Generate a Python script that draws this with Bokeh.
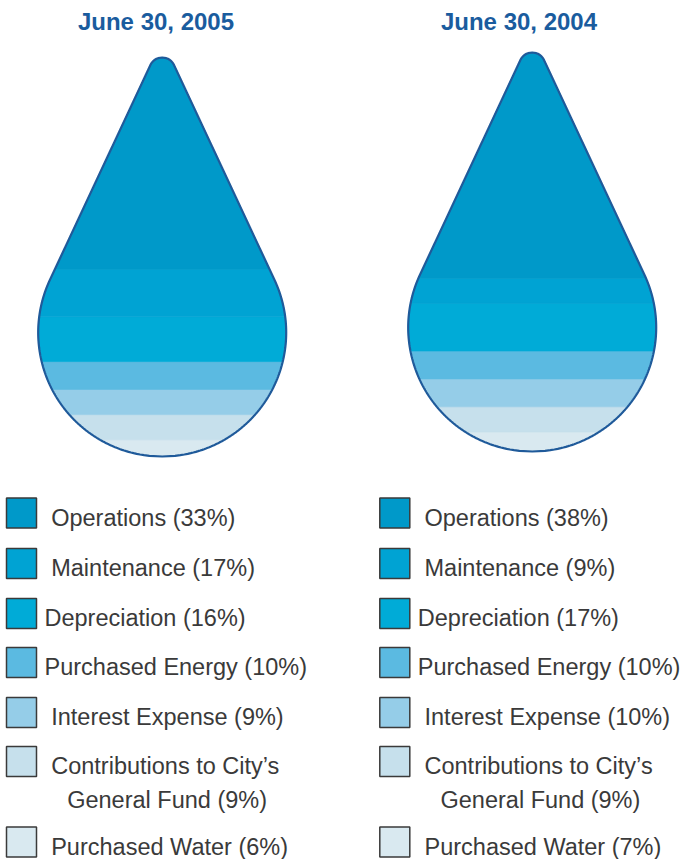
import numpy as np
from bokeh.plotting import figure
from bokeh.models import Range1d, ColumnDataSource
from bokeh.core.properties import value
from bokeh.embed import file_html
from bokeh.resources import INLINE

# ---------------- data ----------------
years = ["June 30, 2005", "June 30, 2004"]
categories = ["Operations", "Maintenance", "Depreciation", "Purchased Energy",
              "Interest Expense", "Contributions to City’s General Fund", "Purchased Water"]
label_lines = [["Operations"], ["Maintenance"], ["Depreciation"], ["Purchased Energy"],
               ["Interest Expense"], ["Contributions to City’s", "General Fund"], ["Purchased Water"]]
pct_2005 = [33, 17, 16, 10, 9, 9, 6]
pct_2004 = [38, 9, 17, 10, 10, 9, 7]
colors = ["#0099c9", "#00a3d3", "#00abd7", "#5bbae1", "#95cde8", "#c6e0ec", "#d9e9f0"]

# ---------------- layout / style ----------------
W, H = 695, 859
FONT = value("Liberation Sans")
TITLE_COLOR = "#1a5c9e"
OUTLINE_COLOR = "#1f5a9a"
TEXT_COLOR = "#3a3a3a"

R_PX = 124.0       # radius of the round part of the drop
DROP_PX = 399.0    # drop height, bottom to tip
TIP_R = 13.0       # rounding radius of the tip
FILL_SPAN = 0.70   # share of the drop height that 100 % spans
PX_PER_PCT = FILL_SPAN * DROP_PX / 100.0

drop_cx = [161.7, 531.7]
drop_base = [456.0, 451.0]
title_x = [155.5, 518.5]
title_y = 21
sq_x = [21.0, 394.3]
sq_size = 30
row_y = [512.5, 563, 613, 662, 712, 761, 841.5]
text_off = [14.7, 14.7, 8.0, 8.0, 14.7, 14.7, 14.7]
second_line_off = 30.7
text_dy = 4.5
line_gap = 34


def half_width(u):
    u = np.asarray(u, dtype=float)
    yc = R_PX
    yt = DROP_PX - TIP_R
    d = yt - yc
    sa = (R_PX - TIP_R) / d
    ca = np.sqrt(1 - sa ** 2)
    y1 = yc + R_PX * sa
    y2 = yt + TIP_R * sa
    circ = np.sqrt(np.clip(R_PX ** 2 - (u - yc) ** 2, 0, None))
    line = R_PX * ca + (u - y1) * (TIP_R * ca - R_PX * ca) / (y2 - y1)
    tip = np.sqrt(np.clip(TIP_R ** 2 - (u - yt) ** 2, 0, None))
    return np.where(u <= y1, circ, np.where(u <= y2, line, tip))


p = figure(width=W, height=H, x_range=Range1d(0, W), y_range=Range1d(H, 0),
           output_backend="svg", toolbar_location=None, tools="",
           x_axis_location=None, y_axis_location=None, min_border=0)
p.grid.visible = False
p.outline_line_color = None
p.background_fill_color = "white"
p.border_fill_color = "white"

extra = {}
for j in range(2):
    base = drop_base[j]
    extra[f"drop{j}"] = Range1d(start=-(H - base) / PX_PER_PCT, end=base / PX_PER_PCT)
p.extra_y_ranges = extra

tip_pct = DROP_PX / PX_PER_PCT

for j, pcts in enumerate([pct_2005, pct_2004]):
    name = f"drop{j}"
    cx = drop_cx[j]
    xs, ys, cols = [], [], []
    cum = 0.0
    for i in reversed(range(len(pcts))):
        lo = cum
        hi = cum + pcts[i]
        cum = hi
        if i == 0:
            hi = tip_pct
        yy = np.linspace(lo, hi, 120)
        hw = half_width(yy * PX_PER_PCT)
        xs.append(list(np.concatenate([cx + hw, (cx - hw)[::-1]])))
        ys.append(list(np.concatenate([yy, yy[::-1]])))
        cols.append(colors[i])
    src = ColumnDataSource(dict(xs=xs, ys=ys, c=cols))
    p.patches("xs", "ys", source=src, fill_color="c", line_color="c",
              line_width=0.7, y_range_name=name)

    uu = np.linspace(0, DROP_PX, 600)
    hw = half_width(uu)
    ox = np.concatenate([cx + hw, (cx - hw)[::-1]])
    oy = np.concatenate([uu, uu[::-1]]) / PX_PER_PCT
    p.patch(list(ox), list(oy), fill_alpha=0, line_color=OUTLINE_COLOR,
            line_width=2.2, y_range_name=name)

# titles
p.text(x=title_x, y=[title_y, title_y], text=years, text_align="center",
       text_baseline="middle", text_font=FONT, text_font_style="bold",
       text_font_size="24px", text_color=TITLE_COLOR)

# legends
for j, pcts in enumerate([pct_2005, pct_2004]):
    p.rect(x=[sq_x[j]] * len(pcts), y=row_y, width=sq_size, height=sq_size,
           fill_color=colors, line_color="#3a3a3a", line_width=1.5)
    tx, ty, tt = [], [], []
    for i, lines in enumerate(label_lines):
        x0 = sq_x[j] + sq_size / 2 + text_off[i]
        for k, ln in enumerate(lines):
            txt = ln
            if k == len(lines) - 1:
                txt = f"{ln} ({pcts[i]}%)"
            if k == 0:
                tx.append(x0)
            else:
                tx.append(sq_x[j] + sq_size / 2 + second_line_off)
            ty.append(row_y[i] + text_dy + line_gap * k)
            tt.append(txt)
    p.text(x=tx, y=ty, text=tt, text_align="left", text_baseline="middle",
           text_font=FONT, text_font_size="23.5px", text_color=TEXT_COLOR)

open("out.html", "w").write(file_html(p, INLINE))
